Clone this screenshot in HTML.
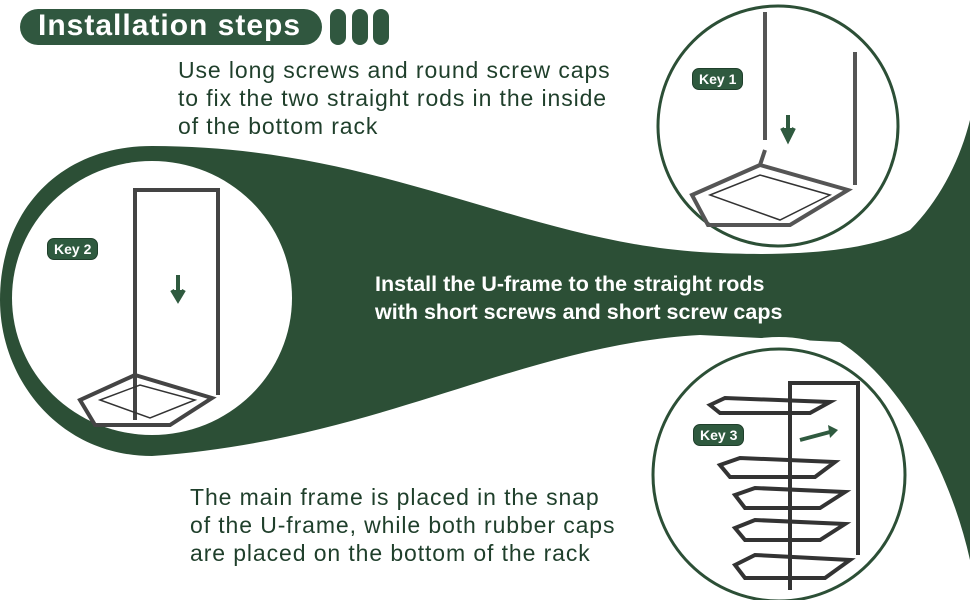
<!DOCTYPE html>
<html><head><meta charset="utf-8"><style>
html,body{margin:0;padding:0;background:#fff}
body{width:970px;height:600px;position:relative;overflow:hidden;font-family:"Liberation Sans","DejaVu Sans",sans-serif}
.t{position:absolute;color:#1f3f2b;font-size:23px;line-height:28px;letter-spacing:0.9px;white-space:nowrap}
.m{position:absolute;color:#fff;font-weight:bold;font-size:21.5px;line-height:28px;white-space:nowrap}
.key{position:absolute;background:#2f5a3f;color:#fff;font-weight:bold;font-size:14px;border-radius:7px;padding:2px 6px;border:1px solid #1f3f2b}
</style></head><body>
<svg width="970" height="600" style="position:absolute;left:0;top:0">
<path fill="#2c4f36" d="M152,146 C380,146 520,240 700,252 C800,258 870,250 910,230 C940,200 960,160 970,120 L970,560 C950,470 900,380 840,342 L700,335 C520,345 380,440 152,456 C60,456 0,380 0,300 C0,210 60,146 152,146 Z"/>
<ellipse cx="152" cy="298" rx="140" ry="137" fill="#fff"/>
<circle cx="778" cy="126" r="120" fill="#fff" stroke="#2c4f36" stroke-width="3"/>
<circle cx="779" cy="475" r="138" fill="#fff"/>
<circle cx="779" cy="475" r="126" fill="#fff" stroke="#2c4f36" stroke-width="3"/>
<g stroke="#555" fill="none" stroke-width="4">
<line x1="765" y1="12" x2="765" y2="140"/><line x1="855" y1="52" x2="855" y2="185"/>
<path d="M765,150 L760,165 L692,195 L708,225 L790,225 L848,190 L760,165"/>
</g>
<g stroke="#333" fill="none" stroke-width="1.5"><path d="M710,195 L760,175 L830,195 L780,220 Z"/></g>
<path d="M788,115 L788,130 M782,128 L788,140 L794,128" stroke="#2f5a3f" stroke-width="4" fill="#2f5a3f"/>
<g stroke="#444" fill="none" stroke-width="4">
<path d="M135,420 L135,190 L218,190 L218,395"/>
<path d="M135,375 L80,400 L95,425 L170,425 L212,398 L135,375"/>
</g>
<g stroke="#333" fill="none" stroke-width="1.5"><path d="M100,400 L140,385 L195,400 L150,418 Z"/></g>
<path d="M178,275 L178,292 M172,290 L178,300 L184,290" stroke="#2f5a3f" stroke-width="4" fill="#2f5a3f"/>
<g stroke="#333" fill="none" stroke-width="4">
<path d="M790,590 L790,383 L858,383 L858,555"/>
<path d="M710,405 L725,398 L830,402 L810,413 L720,413 Z"/>
<path d="M720,465 L740,458 L835,462 L815,477 L730,477 Z"/>
<path d="M735,495 L755,488 L845,492 L820,508 L745,508 Z"/>
<path d="M735,528 L755,520 L845,524 L820,540 L745,540 Z"/>
<path d="M735,565 L755,555 L850,560 L825,578 L745,578 Z"/>
</g>
<path d="M800,440 L830,432" stroke="#2f5a3f" stroke-width="4"/>
<path d="M828,425 L838,430 L830,438 Z" fill="#2f5a3f"/>
</svg>
<div style="position:absolute;left:20px;top:9px;width:302px;height:36px;background:#30573f;border-radius:18px"></div>
<div style="position:absolute;left:38px;top:8px;color:#fff;font-weight:bold;font-size:30px;line-height:36px;letter-spacing:1px;white-space:nowrap">Installation steps</div>
<div style="position:absolute;left:330px;top:9px;width:16px;height:36px;background:#30573f;border-radius:8px"></div>
<div style="position:absolute;left:352px;top:9px;width:16px;height:36px;background:#30573f;border-radius:8px"></div>
<div style="position:absolute;left:373px;top:9px;width:16px;height:36px;background:#30573f;border-radius:8px"></div>
<div class="t" style="left:178px;top:56px">Use long screws and round screw caps<br>to fix the two straight rods in the inside<br>of the bottom rack</div>
<div class="m" style="left:375px;top:270px">Install the U-frame to the straight rods<br>with short screws and short screw caps</div>
<div class="t" style="left:190px;top:483px">The main frame is placed in the snap<br>of the U-frame, while both rubber caps<br>are placed on the bottom of the rack</div>
<div class="key" style="left:692px;top:68px">Key 1</div>
<div class="key" style="left:47px;top:238px">Key 2</div>
<div class="key" style="left:693px;top:424px">Key 3</div>
</body></html>
